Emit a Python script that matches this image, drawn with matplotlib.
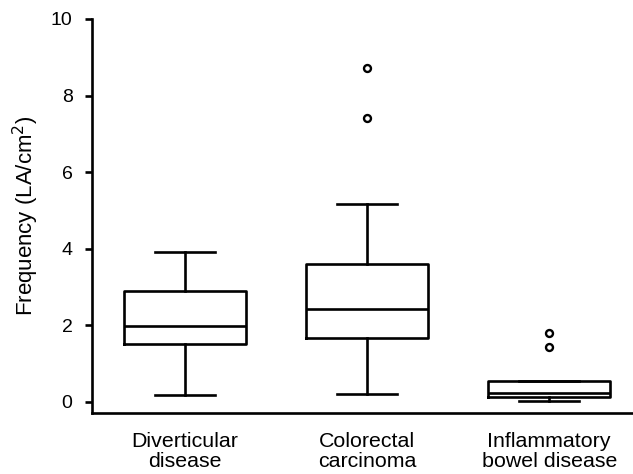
import matplotlib
matplotlib.use("Agg")
import matplotlib.pyplot as plt

# values
categories = ["Diverticular\ndisease", "Colorectal\ncarcinoma", "Inflammatory\nbowel disease"]
whisker_low = [0.18, 0.21, 0.03]
q1 = [1.51, 1.67, 0.13]
median = [1.98, 2.43, 0.24]
q3 = [2.90, 3.60, 0.55]
whisker_high = [3.92, 5.17, 0.55]
outliers = [[], [7.42, 8.72], [1.44, 1.80]]

plt.rcParams['font.family'] = ['Liberation Sans', 'DejaVu Sans']

fig = plt.figure(figsize=(6.33, 4.74), dpi=100)
ax = fig.add_axes([0.1453, 0.1287, 0.8547, 0.8313])

stats = []
for i in range(len(categories)):
    stats.append({
        "whislo": whisker_low[i], "q1": q1[i], "med": median[i],
        "q3": q3[i], "whishi": whisker_high[i], "fliers": outliers[i],
        "label": categories[i],
    })

lw = 1.9
ax.bxp(stats, positions=[1, 2, 3], widths=0.67, showfliers=True,
       boxprops=dict(color="black", linewidth=lw),
       medianprops=dict(color="black", linewidth=lw),
       whiskerprops=dict(color="black", linewidth=lw),
       capprops=dict(color="black", linewidth=lw),
       capwidths=0.33,
       flierprops=dict(marker="o", markerfacecolor="white", markeredgecolor="black",
                       markersize=5, markeredgewidth=1.7))

ax.set_xlim(0.49, 3.46)
ax.set_ylim(-0.29, 10)
ax.set_yticks([0, 2, 4, 6, 8, 10])
ax.spines['top'].set_visible(False)
ax.spines['right'].set_visible(False)
ax.spines['left'].set_linewidth(1.9)
ax.spines['bottom'].set_linewidth(1.9)
ax.tick_params(axis='y', direction='out', length=5, width=1.9, labelsize=14, pad=9)
ax.tick_params(axis='x', length=0, labelsize=15.4, pad=14)
for t in ax.get_xticklabels():
    t.set_linespacing(1.02)
ax.set_ylabel("Frequency (LA/cm$^2$)", fontsize=16, labelpad=7)

fig.savefig("out.png", dpi=100)
